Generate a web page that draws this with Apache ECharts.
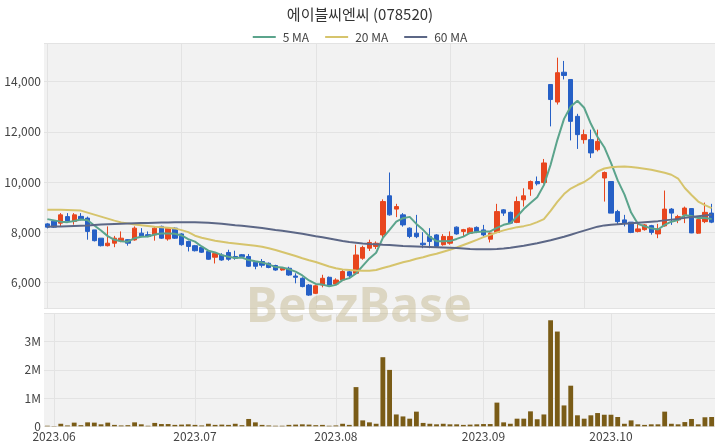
<!DOCTYPE html>
<html>
<head>
<meta charset="utf-8">
<script src="https://cdn.jsdelivr.net/npm/echarts@6/dist/echarts.min.js"></script>
<style>html,body{margin:0;padding:0;background:#fff}#c{width:720px;height:448px}</style>
</head>
<body>
<div id="c"></div>
<script>
const titleText = '에이블씨엔씨 (078520)';
const watermarkText = 'BeezBase';
const dates = [
'2023-05-31',
'2023-06-01','2023-06-02','2023-06-05','2023-06-07','2023-06-08','2023-06-09','2023-06-12','2023-06-13','2023-06-14','2023-06-15','2023-06-16','2023-06-19','2023-06-20','2023-06-21','2023-06-22','2023-06-23','2023-06-26','2023-06-27','2023-06-28','2023-06-29','2023-06-30',
'2023-07-03','2023-07-04','2023-07-05','2023-07-06','2023-07-07','2023-07-10','2023-07-11','2023-07-12','2023-07-13','2023-07-14','2023-07-17','2023-07-18','2023-07-19','2023-07-20','2023-07-21','2023-07-24','2023-07-25','2023-07-26','2023-07-27','2023-07-28','2023-07-31',
'2023-08-01','2023-08-02','2023-08-03','2023-08-04','2023-08-07','2023-08-08','2023-08-09','2023-08-10','2023-08-11','2023-08-14','2023-08-16','2023-08-17','2023-08-18','2023-08-21','2023-08-22','2023-08-23','2023-08-24','2023-08-25','2023-08-28','2023-08-29','2023-08-30','2023-08-31',
'2023-09-01','2023-09-04','2023-09-05','2023-09-06','2023-09-07','2023-09-08','2023-09-11','2023-09-12','2023-09-13','2023-09-14','2023-09-15','2023-09-18','2023-09-19','2023-09-20','2023-09-21','2023-09-22','2023-09-25','2023-09-26','2023-09-27',
'2023-10-04','2023-10-05','2023-10-06','2023-10-10','2023-10-11','2023-10-12','2023-10-13','2023-10-16','2023-10-17','2023-10-18','2023-10-19','2023-10-20','2023-10-23','2023-10-24','2023-10-25','2023-10-26'
];
const opens = [8330,8440,8360,8620,8430,8630,8560,8090,7760,7460,
 7560,7660,7700,7690,7960,7900,7890,8230,7730,8160,
 7930,7630,7460,7390,7230,7000,7090,7190,7030,7100,
 7030,6800,6830,6760,6670,6490,6560,6250,6160,5890,
 5560,5890,6200,5930,6090,6420,6360,6960,7360,7430,
 7890,9450,8920,8690,8160,7960,7560,7830,7890,7500,
 7560,8200,8030,7960,8190,8090,7720,7990,8890,8790,
 8390,9290,9720,10020,9980,13890,13190,14380,14090,12620,
 11690,11690,11290,10160,10020,8820,8490,8400,8030,8100,
 8260,7930,8250,8920,8490,8690,8940,7960,8420,8760];
const closes = [8200,8200,8690,8450,8690,8500,8030,7660,7460,7560,
 7760,7760,7560,8160,7830,7830,8160,7760,8160,7760,
 7500,7430,7260,7200,6920,7150,6890,6920,6960,7020,
 6640,6640,6680,6590,6490,6560,6290,6200,5830,5490,
 5860,6160,5890,6090,6430,6260,7090,7390,7590,7560,
 9220,8690,9020,8290,7830,7820,7500,7630,7430,7830,
 7830,7930,8100,8160,8030,7890,7960,8820,8760,8360,
 9220,9450,10020,9930,10760,13290,14360,14250,12420,11890,
 11890,11160,11620,10380,8760,8420,8360,7990,8130,8290,
 7990,8130,8920,8760,8620,8960,7970,8500,8790,8400];
const lows = [8150,8170,8230,8430,8300,8470,7700,7630,7430,7430,
 7400,7600,7460,7660,7800,7800,7660,7730,7660,7730,
 7460,7230,7230,7170,6900,6750,6860,6860,6900,6990,
 6610,6520,6590,6560,6460,6460,6260,5960,5800,5460,
 5530,5800,5860,5890,6060,6130,6300,6900,7250,7330,
 7690,8660,8600,8220,7760,7760,7360,7360,7400,7460,
 7500,7900,7830,7930,7960,7830,7590,7960,8650,8330,
 8360,9020,9450,9860,9930,12220,13090,14090,11660,11320,
 11530,10960,11220,9220,8760,8290,8230,7960,7990,8060,
 7900,7760,8220,8290,8360,8360,7960,7930,8360,8360];
const highs = [8360,8470,8760,8760,8760,8760,8620,8090,7760,8230,
 7850,8030,7720,8230,8160,8030,8230,8260,8200,8190,
 7960,7660,7490,7420,7260,7180,7160,7300,7260,7130,
 7130,6830,6930,6790,6700,6580,6620,6360,6200,5930,
 5890,6300,6230,6160,6500,6530,7500,7460,7700,7630,
 9310,10380,9130,8760,8190,8690,8000,8160,7920,7920,
 8030,8230,8130,8190,8230,8290,7990,9130,8920,8820,
 9420,9750,10060,10220,10920,13890,14960,14830,14090,12720,
 12090,12090,12090,10420,10020,8890,8690,8400,8360,8320,
 8290,8330,9660,8960,8690,9020,8960,8520,9180,9130];
const volumes = [20000,10000,90000,30000,130000,40000,140000,130000,70000,130000,
 50000,30000,40000,140000,70000,20000,120000,80000,80000,50000,
 60000,70000,50000,30000,90000,50000,60000,50000,90000,40000,
 260000,140000,50000,30000,20000,20000,50000,60000,70000,60000,
 40000,50000,20000,30000,90000,50000,1390000,210000,140000,90000,
 2450000,2000000,420000,350000,270000,520000,120000,90000,70000,90000,
 70000,70000,50000,60000,70000,80000,80000,840000,140000,90000,
 270000,270000,530000,250000,420000,3760000,3360000,740000,1440000,390000,
 270000,390000,470000,410000,410000,330000,90000,210000,70000,50000,
 70000,70000,520000,90000,70000,150000,260000,70000,320000,330000];
const ma5 = [8520,8470,8420,8400,8446,8506,8472,8266,8068,7842,
 7694,7640,7620,7760,7814,7828,7908,7948,7948,7934,
 7868,7722,7622,7430,7262,7192,7084,7016,6968,6988,
 6886,6836,6788,6714,6608,6592,6522,6426,6274,6074,
 5934,5908,5846,5898,6086,6166,6352,6652,6952,7178,
 7770,8090,8416,8556,8610,8330,8092,7814,7642,7642,
 7644,7730,7824,7970,8010,8022,8028,8172,8292,8358,
 8624,8922,9162,9396,9876,10690,11672,12518,13016,13242,
 12962,12322,11796,11388,10762,10068,9508,8782,8332,8238,
 8152,8106,8292,8418,8484,8678,8646,8562,8568,8524];
const ma20 = [8890,8890,8890,8880,8870,8860,8780,8700,8620,8540,
 8460,8390,8350,8310,8280,8250,8220,8200,8180,8150,
 8080,8000,7860,7780,7720,7660,7620,7580,7550,7520,
 7490,7460,7420,7360,7290,7210,7130,7050,6960,6880,
 6810,6720,6630,6560,6510,6490,6470,6460,6460,6490,
 6570,6640,6720,6800,6860,6940,7000,7080,7140,7220,
 7300,7390,7490,7590,7690,7800,7890,7990,8070,8140,
 8200,8240,8300,8400,8520,8850,9210,9520,9740,9880,
 10000,10180,10420,10540,10590,10610,10620,10600,10570,10530,
 10490,10430,10370,10290,10140,9760,9480,9220,9080,8960];
const ma60 = [8220,8225,8230,8240,8250,8260,8270,8290,8310,8320,
 8330,8340,8350,8360,8365,8370,8380,8385,8390,8395,
 8400,8400,8395,8390,8380,8360,8340,8310,8280,8260,
 8230,8200,8170,8130,8090,8060,8020,7980,7940,7890,
 7840,7800,7750,7700,7650,7610,7580,7550,7530,7520,
 7500,7490,7470,7450,7440,7430,7420,7410,7400,7390,
 7380,7370,7350,7330,7320,7320,7320,7330,7350,7380,
 7420,7460,7510,7560,7620,7680,7750,7820,7900,7980,
 8060,8140,8220,8270,8300,8320,8340,8360,8380,8400,
 8420,8440,8470,8500,8530,8570,8600,8630,8660,8690];

const candleData = dates.map((d, i) => [opens[i], closes[i], lows[i], highs[i]]);
const monthStart = (idx) => idx > 0 && dates[idx].slice(0, 7) !== dates[idx - 1].slice(0, 7);
const FONT = "'Noto Sans CJK KR', 'Noto Sans', sans-serif";
const gridLine = { show: true, lineStyle: { color: '#e3e3e3', width: 1 } };

const chart = echarts.init(document.getElementById('c'), null, { renderer: 'canvas' });
chart.setOption({
  animation: false,
  backgroundColor: '#ffffff',
  textStyle: { fontFamily: FONT },
  title: {
    text: titleText, left: 'center', top: 2,
    textStyle: { fontSize: 15, fontWeight: 'normal', color: '#333', fontFamily: FONT }
  },
  legend: {
    top: 26, left: 'center', icon: 'rect', itemWidth: 23, itemHeight: 2, itemGap: 16,
    textStyle: { fontSize: 12, color: '#444', fontFamily: FONT, padding: [0, 0, 0, 2] },
    data: ['5 MA', '20 MA', '60 MA']
  },
  grid: [
    { left: 44, right: 5, top: 43, height: 265, show: true, backgroundColor: '#f2f2f2', borderWidth: 0 },
    { left: 44, right: 5, top: 313.5, height: 112.8, show: true, backgroundColor: '#f2f2f2', borderWidth: 0 }
  ],
  xAxis: [
    {
      type: 'category', gridIndex: 0, data: dates, boundaryGap: true,
      axisLine: { show: false }, axisTick: { show: false }, axisLabel: { show: false },
      splitLine: { show: true, alignWithLabel: true, interval: (idx) => idx % 20 === 0, lineStyle: { color: '#e3e3e3' } }
    },
    {
      type: 'category', gridIndex: 1, data: dates, boundaryGap: true,
      axisLine: { show: false }, axisTick: { show: false },
      axisLabel: {
        interval: (idx) => monthStart(idx), margin: 4, fontSize: 12, color: '#444', fontFamily: FONT,
        formatter: (v) => v.slice(0, 7).replace('-', '.')
      },
      splitLine: { show: true, alignWithLabel: true, interval: (idx) => monthStart(idx), lineStyle: { color: '#e3e3e3' } }
    }
  ],
  yAxis: [
    {
      type: 'value', gridIndex: 0, min: 4975, max: 15545, splitNumber: 5, scale: true,
      axisLine: { show: false }, axisTick: { show: false },
      axisLabel: { showMinLabel: false, showMaxLabel: false, margin: 3, fontSize: 12, color: '#444', fontFamily: FONT },
      splitLine: gridLine
    },
    {
      type: 'value', gridIndex: 1, min: 0, max: 4000000, interval: 1000000,
      axisLine: { show: false }, axisTick: { show: false },
      axisLabel: {
        showMaxLabel: false, margin: 3, fontSize: 12, color: '#444', fontFamily: FONT,
        formatter: (v) => v === 0 ? '0' : (v / 1000000) + 'M'
      },
      splitLine: gridLine
    }
  ],
  graphic: [{
    type: 'text', left: 246, top: 284, z: 100, silent: true,
    style: { text: watermarkText, font: "bold 48px 'Noto Sans', sans-serif", fill: 'rgba(192,180,135,0.45)' }
  }],
  series: [
    {
      name: 'price', type: 'candlestick', xAxisIndex: 0, yAxisIndex: 0, data: candleData, barWidth: '72%',
      itemStyle: { color: '#e8461e', color0: '#2660c6', borderColor: '#e8461e', borderColor0: '#2660c6', borderWidth: 1 }
    },
    { name: '5 MA', type: 'line', xAxisIndex: 0, yAxisIndex: 0, data: ma5, symbol: 'none', smooth: false,
      lineStyle: { color: '#5ba48c', width: 2 }, itemStyle: { color: '#5ba48c' } },
    { name: '20 MA', type: 'line', xAxisIndex: 0, yAxisIndex: 0, data: ma20, symbol: 'none',
      lineStyle: { color: '#d6c46c', width: 2 }, itemStyle: { color: '#d6c46c' } },
    { name: '60 MA', type: 'line', xAxisIndex: 0, yAxisIndex: 0, data: ma60, symbol: 'none',
      lineStyle: { color: '#5c6786', width: 2 }, itemStyle: { color: '#5c6786' } },
    { name: 'volume', type: 'bar', xAxisIndex: 1, yAxisIndex: 1, data: volumes, barWidth: '72%',
      itemStyle: { color: '#7a5c17' } }
  ]
});
</script>
</body>
</html>
